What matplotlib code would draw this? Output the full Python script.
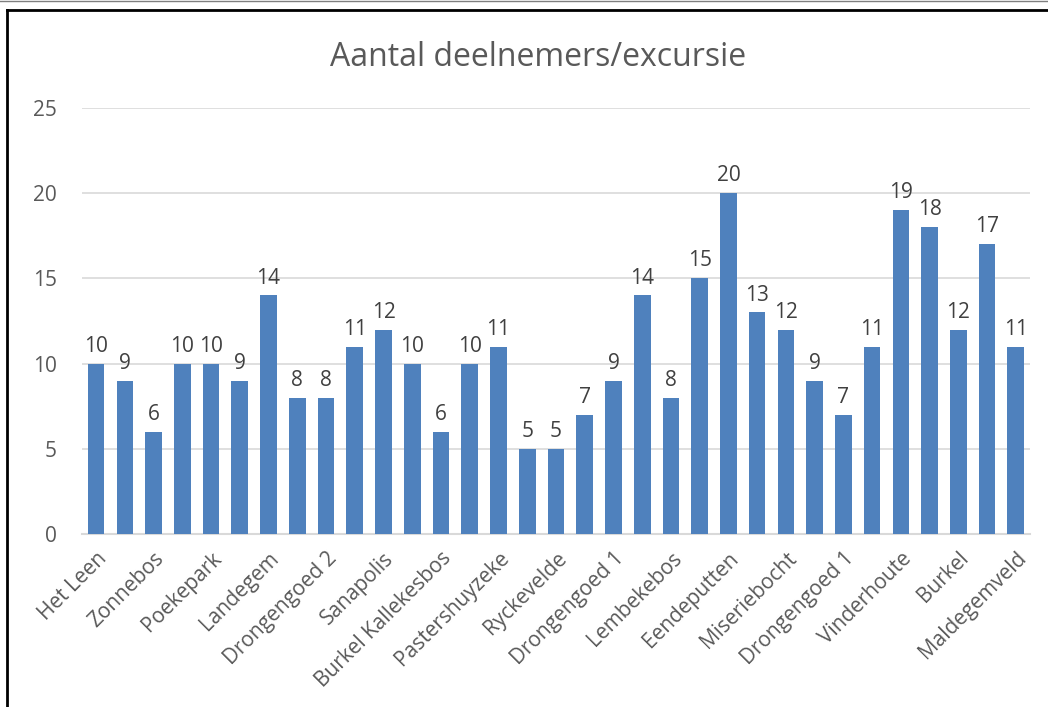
import numpy as np
import matplotlib.pyplot as plt
from matplotlib.lines import Line2D

values = [10, 9, 6, 10, 10, 9, 14, 8, 8, 11, 12, 10, 6, 10, 11, 5, 5,
          7, 9, 14, 8, 15, 20, 13, 12, 9, 7, 11, 19, 18, 12, 17, 11]
tick_labels = ["Het Leen", "Zonnebos", "Poekepark", "Landegem", "Drongengoed 2",
               "Sanapolis", "Burkel Kallekesbos", "Pastershuyzeke", "Ryckevelde",
               "Drongengoed 1", "Lembekebos", "Eendeputten", "Miseriebocht",
               "Drongengoed 1", "Vinderhoute", "Burkel", "Maldegemveld"]
yticks = [0, 5, 10, 15, 20, 25]

txt = "#595959"
plt.rcParams['font.family'] = ['Open Sans', 'DejaVu Sans']

fig = plt.figure(figsize=(10.48, 7.07), dpi=100)
ax = fig.add_axes([0.078, 0.2447, 0.905, 0.6025])

x = np.arange(len(values))
bars = ax.bar(x, values, width=0.58, color="#4F81BD", zorder=3)
ax.bar_label(bars, padding=5, fontsize=15, color="#404040")

ax.set_xlim(-0.5, len(values) - 0.5)
ax.set_ylim(0, 25)
ax.set_yticks(yticks)
ax.set_xticks(x[::2])
ax.set_xticklabels(tick_labels, rotation=45, ha="right", rotation_mode="anchor",
                   fontsize=15, color=txt)
ax.tick_params(axis="x", length=0, pad=10)
ax.tick_params(axis="y", length=0, pad=18, labelsize=15, labelcolor=txt)
ax.grid(axis="y", color="#D9D9D9", linewidth=1.2, zorder=0)
for s in ["top", "right", "left"]:
    ax.spines[s].set_visible(False)
ax.spines["bottom"].set_color("#D9D9D9")
ax.spines["bottom"].set_linewidth(1.5)

fig.text(0.513, 0.918, "Aantal deelnemers/excursie", ha="center", va="center",
         fontsize=23, color=txt)

# outer frame like the screenshot
fig.add_artist(Line2D([0, 1], [0.998, 0.998], transform=fig.transFigure,
                      color="#7F7F7F", linewidth=1))
fig.add_artist(Line2D([6.5 / 1048, 1], [1 - 9.5 / 707, 1 - 9.5 / 707],
                      transform=fig.transFigure, color="black", linewidth=2))
fig.add_artist(Line2D([6.5 / 1048, 6.5 / 1048], [0, 1 - 9.5 / 707],
                      transform=fig.transFigure, color="black", linewidth=2))

plt.savefig("out.png", dpi=100)
